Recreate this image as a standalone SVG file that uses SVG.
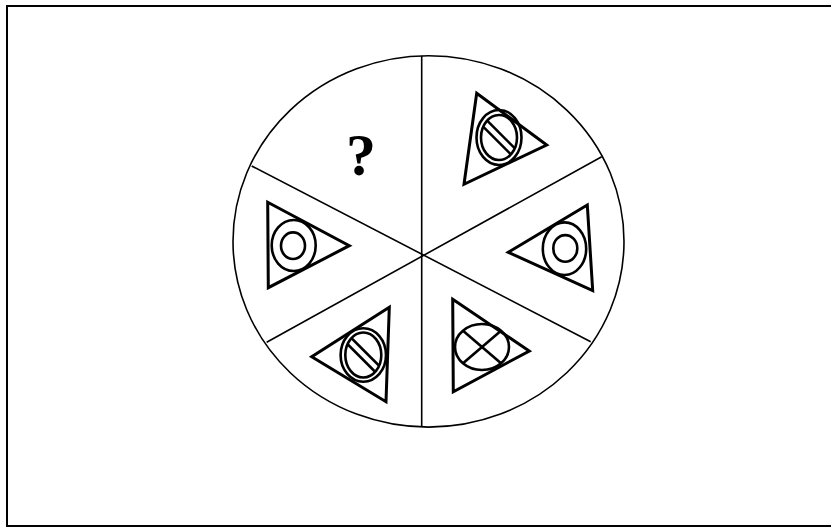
<svg xmlns="http://www.w3.org/2000/svg" width="831" height="527" viewBox="0 0 831 527">
<style>
.frame{fill:none;stroke:#000;stroke-width:2}
.wheel{fill:none;stroke:#000;stroke-width:1.6}
.spoke{stroke:#000;stroke-width:1.6;fill:none}
.tri{fill:none;stroke:#000;stroke-width:3;stroke-linejoin:miter}
.ring{fill:none;stroke:#000;stroke-width:2.6}
.bar{stroke:#000;stroke-width:2.6}
.q{font-family:"Liberation Serif","Times New Roman",serif;font-weight:bold;font-size:60px;fill:#000}
</style>
<defs>
<clipPath id="clipTR"><ellipse cx="499" cy="137.5" rx="18" ry="22.5"/></clipPath>
<clipPath id="clipBL"><ellipse cx="363.3" cy="355" rx="18" ry="22.5"/></clipPath>
</defs>
<rect width="831" height="527" fill="#fff"/>
<rect class="frame" x="7" y="6" width="826" height="520"/>
<g id="wheel">
<ellipse class="wheel" cx="428.5" cy="241.4" rx="195.5" ry="185.7"/>
</g>
<g id="connectors">
<line class="spoke" x1="421.7" y1="55.7" x2="421.7" y2="427"/>
<line class="spoke" x1="251.7" y1="166" x2="590.7" y2="341.7"/>
<line class="spoke" x1="601.7" y1="156.7" x2="266.7" y2="342.3"/>
</g>
<g id="question">
<text class="q" x="361" y="175" text-anchor="middle">?</text>
</g>
<g id="top-right">
<polygon class="tri" points="476.7,93.3 546.7,145 464,184.3"/>
<ellipse class="ring" cx="499" cy="137.5" rx="22.5" ry="27.5"/>
<ellipse class="ring" cx="499" cy="137.5" rx="18" ry="22.5"/>
<g clip-path="url(#clipTR)">
<line class="bar" x1="474" y1="117.5" x2="524" y2="167.5"/>
<line class="bar" x1="474" y1="107.5" x2="524" y2="157.5"/>
</g>
</g>
<g id="right">
<polygon class="tri" points="587.3,205 508.3,252.3 592.7,290.7"/>
<ellipse class="ring" cx="564.5" cy="248.7" rx="21.7" ry="26.3"/>
<ellipse class="ring" cx="565.3" cy="248.4" rx="12" ry="13.3"/>
</g>
<g id="bottom-right">
<polygon class="tri" points="452.7,299.3 529.3,351 453.3,391.7"/>
<ellipse class="ring" cx="482" cy="347" rx="27" ry="23"/>
<line class="bar" x1="463" y1="330.7" x2="501" y2="363.3"/>
<line class="bar" x1="501" y1="330.7" x2="463" y2="363.3"/>
</g>
<g id="bottom-left">
<polygon class="tri" points="389.3,307.3 311.7,356.7 386,401.7"/>
<ellipse class="ring" cx="363.3" cy="355" rx="22.7" ry="26.7"/>
<ellipse class="ring" cx="363.3" cy="355" rx="18" ry="22.5"/>
<g clip-path="url(#clipBL)">
<line class="bar" x1="338.3" y1="335" x2="388.3" y2="385"/>
<line class="bar" x1="338.3" y1="325" x2="388.3" y2="375"/>
</g>
</g>
<g id="left">
<polygon class="tri" points="267.7,202.3 349.3,245.7 268.3,287.7"/>
<ellipse class="ring" cx="293.7" cy="245.5" rx="22" ry="25.5"/>
<ellipse class="ring" cx="293" cy="245.7" rx="12" ry="13.3"/>
</g>
</svg>
